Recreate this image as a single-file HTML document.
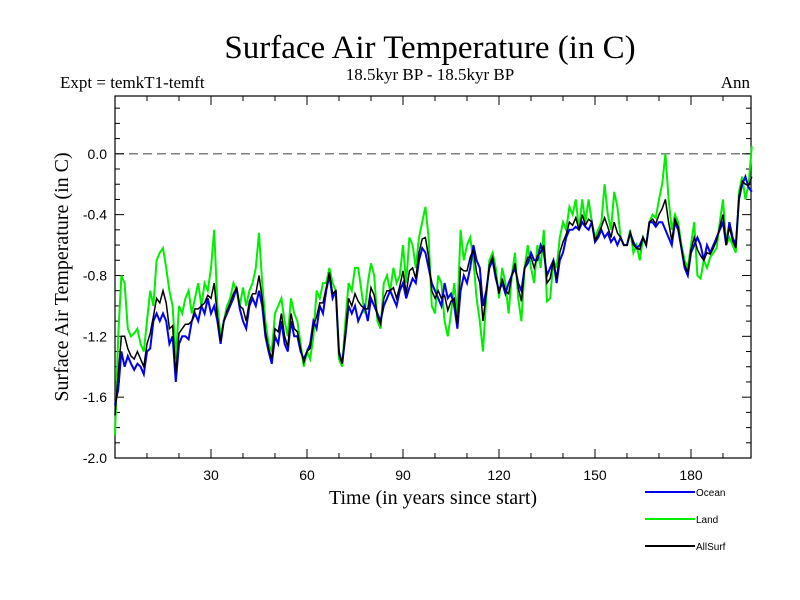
<!DOCTYPE html>
<html><head><meta charset="utf-8"><style>
body{margin:0;background:#fff;}
svg{display:block;font-family:"Liberation Serif",serif;}
</style></head><body>
<svg id="chart" width="800" height="600" xmlns="http://www.w3.org/2000/svg">
<text x="430" y="58" font-size="33" text-anchor="middle">Surface Air Temperature (in C)</text>
<text x="60" y="88" font-size="17">Expt = temkT1-temft</text>
<text x="430" y="80" font-size="17" text-anchor="middle">18.5kyr BP - 18.5kyr BP</text>
<text x="750" y="88" font-size="17" text-anchor="end">Ann</text>
<text transform="translate(68,277) rotate(-90)" font-size="20" text-anchor="middle">Surface Air Temperature (in C)</text>
<text x="433" y="504" font-size="20" text-anchor="middle">Time (in years since start)</text>
<g id="axes"></g>
<g id="series"></g>
<g id="legend"></g>
</svg>
<script>
const xTicks=[30,60,90,120,150,180];
const yTicks=[-2.0,-1.6,-1.2,-0.8,-0.4,0.0];
const seriesNames=["Ocean","Land","AllSurf"];
const ocean=[-1.65,-1.55,-1.3,-1.4,-1.33,-1.38,-1.42,-1.38,-1.4,-1.45,-1.3,-1.28,-1.1,-1.05,-1.1,-1.05,-1.1,-1.25,-1.2,-1.5,-1.25,-1.2,-1.2,-1.22,-1.1,-1.05,-1.1,-1.0,-1.05,-0.95,-1.05,-1.0,-1.1,-1.25,-1.1,-1.05,-1.0,-0.95,-0.88,-1.02,-1.1,-1.15,-1.0,-0.95,-1.0,-0.9,-1.0,-1.2,-1.3,-1.38,-1.2,-1.25,-1.1,-1.25,-1.3,-1.1,-1.2,-1.2,-1.3,-1.35,-1.3,-1.25,-1.1,-1.15,-1.0,-1.05,-0.9,-0.8,-0.95,-0.9,-1.3,-1.38,-1.2,-1.0,-1.05,-1.0,-1.1,-1.05,-1.0,-1.1,-0.95,-1.0,-1.05,-1.1,-1.0,-0.95,-0.9,-0.95,-1.0,-0.9,-0.85,-0.95,-0.88,-0.82,-0.85,-0.7,-0.62,-0.65,-0.75,-0.85,-0.9,-0.95,-1.0,-0.85,-0.95,-0.92,-1.0,-1.15,-0.9,-0.8,-0.85,-0.75,-0.6,-0.7,-0.75,-1.0,-0.9,-0.75,-0.7,-0.82,-0.9,-0.85,-0.92,-0.85,-0.8,-0.75,-0.85,-0.9,-0.75,-0.72,-0.65,-0.7,-0.7,-0.6,-0.65,-0.8,-0.75,-0.7,-0.85,-0.7,-0.65,-0.55,-0.5,-0.5,-0.48,-0.5,-0.45,-0.48,-0.5,-0.45,-0.58,-0.55,-0.5,-0.55,-0.52,-0.58,-0.55,-0.6,-0.55,-0.6,-0.6,-0.52,-0.58,-0.62,-0.6,-0.55,-0.6,-0.45,-0.45,-0.48,-0.45,-0.45,-0.5,-0.55,-0.6,-0.45,-0.5,-0.62,-0.75,-0.8,-0.65,-0.6,-0.55,-0.6,-0.7,-0.6,-0.65,-0.6,-0.55,-0.5,-0.45,-0.6,-0.45,-0.55,-0.6,-0.3,-0.2,-0.15,-0.22,-0.25];
const land=[-1.85,-1.2,-0.8,-0.85,-1.15,-1.2,-1.18,-1.15,-1.25,-1.3,-1.1,-0.9,-1.0,-0.7,-0.65,-0.62,-0.75,-0.9,-1.0,-1.35,-1.0,-1.05,-0.95,-0.9,-1.05,-0.95,-0.85,-1.0,-0.85,-0.9,-0.75,-0.5,-1.0,-1.2,-1.1,-1.0,-0.95,-0.85,-0.9,-1.0,-0.88,-1.0,-0.9,-0.85,-0.75,-0.52,-0.85,-1.1,-1.25,-1.3,-1.05,-1.0,-0.95,-1.1,-1.2,-0.95,-1.05,-1.1,-1.25,-1.4,-1.3,-1.35,-1.2,-0.9,-0.95,-0.85,-0.85,-0.75,-0.85,-0.9,-1.35,-1.4,-1.1,-0.85,-0.9,-0.75,-0.75,-0.9,-1.05,-0.85,-0.72,-0.8,-1.1,-1.15,-0.85,-0.8,-0.9,-0.75,-0.85,-0.8,-0.6,-0.85,-0.55,-0.6,-0.75,-0.55,-0.45,-0.35,-0.55,-1.0,-1.05,-0.8,-0.85,-1.1,-1.2,-1.05,-0.85,-1.05,-0.5,-0.7,-0.6,-0.55,-0.7,-0.95,-1.1,-1.3,-0.95,-0.7,-0.65,-0.75,-0.95,-0.75,-0.85,-1.05,-0.8,-0.65,-0.95,-1.1,-0.75,-0.6,-0.75,-0.85,-0.6,-0.75,-0.5,-0.97,-0.95,-0.7,-0.75,-0.55,-0.45,-0.5,-0.35,-0.4,-0.3,-0.5,-0.3,-0.45,-0.3,-0.45,-0.55,-0.5,-0.45,-0.2,-0.4,-0.5,-0.25,-0.35,-0.55,-0.6,-0.6,-0.5,-0.65,-0.6,-0.7,-0.55,-0.6,-0.45,-0.4,-0.42,-0.3,-0.2,0.0,-0.3,-0.5,-0.4,-0.45,-0.6,-0.7,-0.75,-0.6,-0.45,-0.8,-0.82,-0.7,-0.75,-0.68,-0.65,-0.62,-0.45,-0.3,-0.6,-0.55,-0.6,-0.65,-0.25,-0.15,-0.3,-0.2,0.05];
const allsurf=[-1.72,-1.45,-1.2,-1.2,-1.28,-1.33,-1.35,-1.3,-1.35,-1.4,-1.25,-1.18,-1.07,-0.95,-0.98,-0.9,-0.98,-1.15,-1.13,-1.45,-1.18,-1.15,-1.12,-1.12,-1.1,-1.02,-1.02,-1.0,-0.98,-0.93,-0.95,-0.85,-1.07,-1.23,-1.1,-1.03,-0.98,-0.92,-0.88,-1.0,-1.02,-1.1,-0.97,-0.92,-0.92,-0.8,-0.95,-1.17,-1.28,-1.35,-1.15,-1.17,-1.05,-1.2,-1.27,-1.05,-1.15,-1.17,-1.28,-1.37,-1.3,-1.28,-1.13,-1.07,-0.98,-0.98,-0.88,-0.78,-0.92,-0.9,-1.32,-1.38,-1.17,-0.95,-1.0,-0.92,-0.97,-1.0,-1.02,-1.02,-0.88,-0.93,-1.07,-1.12,-0.95,-0.9,-0.9,-0.88,-0.95,-0.87,-0.77,-0.92,-0.77,-0.75,-0.82,-0.65,-0.56,-0.55,-0.68,-0.9,-0.95,-0.9,-0.95,-0.93,-1.03,-0.97,-0.95,-1.12,-0.75,-0.77,-0.77,-0.68,-0.63,-0.78,-0.85,-1.1,-0.92,-0.73,-0.68,-0.8,-0.92,-0.82,-0.9,-0.92,-0.8,-0.72,-0.88,-0.97,-0.75,-0.68,-0.68,-0.75,-0.67,-0.65,-0.6,-0.85,-0.82,-0.7,-0.82,-0.65,-0.58,-0.53,-0.45,-0.47,-0.42,-0.5,-0.4,-0.47,-0.43,-0.45,-0.57,-0.53,-0.48,-0.42,-0.48,-0.55,-0.45,-0.52,-0.55,-0.6,-0.6,-0.52,-0.6,-0.62,-0.63,-0.55,-0.6,-0.45,-0.43,-0.46,-0.4,-0.36,-0.3,-0.45,-0.57,-0.43,-0.48,-0.62,-0.73,-0.78,-0.63,-0.55,-0.63,-0.67,-0.7,-0.65,-0.66,-0.62,-0.57,-0.48,-0.4,-0.6,-0.48,-0.57,-0.62,-0.28,-0.18,-0.2,-0.21,-0.15];
const X0=115,X1=751,Y0=96,Y1=458,XMAX=198.75,YMIN=-2.0,YMAX=0.38;
const sx=v=>X0+(X1-X0)*v/XMAX;
const sy=v=>Y1-(Y1-Y0)*(v-YMIN)/(YMAX-YMIN);
const NS="http://www.w3.org/2000/svg";
function mk(tag,attrs,parent){const e=document.createElementNS(NS,tag);for(const k in attrs)e.setAttribute(k,attrs[k]);parent.appendChild(e);return e;}
const axes=document.getElementById('axes');
const frame=mk('rect',{x:X0,y:Y0,width:X1-X0,height:Y1-Y0,fill:'none',stroke:'#000','stroke-width':1.2},axes);


const zl=mk('line',{x1:X0,x2:X1,y1:sy(0),y2:sy(0),stroke:'#555','stroke-width':1.2,'stroke-dasharray':'9,5'},axes);


for(let v=10;v<XMAX;v+=10){const maj=v%30===0;const L=maj?9:5;
 mk('line',{x1:sx(v),x2:sx(v),y1:Y1,y2:Y1-L,stroke:'#000'},axes);
 mk('line',{x1:sx(v),x2:sx(v),y1:Y0,y2:Y0+L,stroke:'#000'},axes);}
for(let i=-20;i<=3;i++){const v=i/10;const maj=i%4===0;const L=maj?9:5;
 mk('line',{x1:X0,x2:X0+L,y1:sy(v),y2:sy(v),stroke:'#000'},axes);
 mk('line',{x1:X1,x2:X1-L,y1:sy(v),y2:sy(v),stroke:'#000'},axes);}
xTicks.forEach(t=>{const e=mk('text',{x:sx(t),y:Y1+22,'font-size':14,'text-anchor':'middle','font-family':'Liberation Sans, sans-serif'},axes);e.textContent=t;
 
 });
yTicks.forEach(t=>{const e=mk('text',{x:X0-8,y:sy(t)+5,'font-size':14,'text-anchor':'end','font-family':'Liberation Sans, sans-serif'},axes);e.textContent=t.toFixed(1);
 
 });
const ser=document.getElementById('series');
const colors=['#0000ee','#00ee00','#000000'];
const datas=[ocean,land,allsurf];
[1,0,2].forEach(i=>{const d=datas[i].map((v,k)=>(k?'L':'M')+sx(k).toFixed(1)+','+sy(v).toFixed(1)).join('');
 const p=mk('path',{d:d,fill:'none',stroke:colors[i],'stroke-width':i===2?1.5:2},ser);
 
 });
const leg=document.getElementById('legend');
seriesNames.forEach((n,i)=>{const y=492+27*i;
 const l=mk('line',{x1:645,x2:695,y1:y,y2:y,stroke:colors[i],'stroke-width':2},leg);
 
 
 const t=mk('text',{x:696,y:y+4,'font-size':10,'font-family':'Liberation Sans, sans-serif'},leg);t.textContent=n;
 
 });
</script>
</body></html>
